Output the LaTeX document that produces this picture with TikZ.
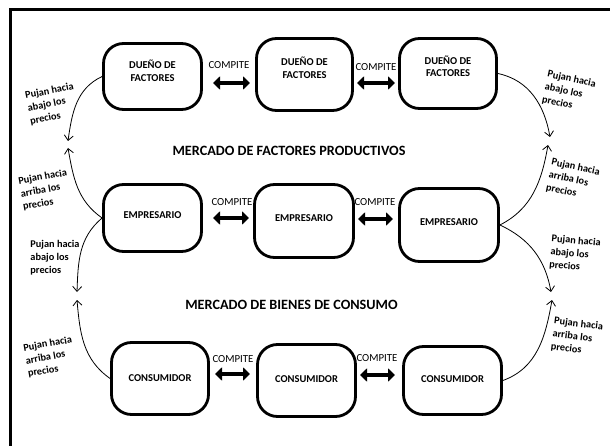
\documentclass[tikz,border=0pt]{standalone}
\usepackage{fontspec}
\setmainfont{Carlito}
\usetikzlibrary{arrows.meta,calc}
\begin{document}
\begin{tikzpicture}[x=1pt,y=1pt,
  box/.style={draw, line width=2.8pt, rounded corners=20pt, inner sep=0pt},
  boxtext/.style={font=\fontsize{10.5}{12.5}\selectfont\bfseries, align=center, inner sep=0pt},
  comp/.style={font=\fontsize{10.8}{12}\selectfont, inner sep=0pt},
  dbl/.style={line width=4.5pt, {Triangle[length=7pt,width=13pt]}-{Triangle[length=7pt,width=13pt]}},
  push/.style={line width=0.8pt, -{Straight Barb[length=5pt,width=9pt]}},
  lab/.style={font=\fontsize{10.3}{13}\selectfont\bfseries, align=left, inner sep=0pt},
  ttl/.style={font=\fontsize{14.2}{16}\selectfont\bfseries, inner sep=0pt}]
\useasboundingbox (0,0) rectangle (610,-446);
\fill[white] (0,0) rectangle (610,-446);
\draw[line width=3pt] (10,-10) rectangle (640,-480);

% boxes
\node[box, minimum width=98pt, minimum height=66pt] (B11) at (152.5,-76.5) {};
\node[box, minimum width=96pt, minimum height=72pt] (B12) at (304.5,-74.5) {};
\node[box, minimum width=97pt, minimum height=70pt] (B13) at (448,-73.5) {};
\node[box, minimum width=98pt, minimum height=67pt] (B21) at (152.5,-218) {};
\node[box, minimum width=99pt, minimum height=73pt] (B22) at (304,-221) {};
\node[box, minimum width=99pt, minimum height=73pt] (B23) at (449,-225) {};
\node[box, minimum width=97pt, minimum height=72pt] (B31) at (160,-378.5) {};
\node[box, minimum width=98pt, minimum height=72pt] (B32) at (306.5,-380.5) {};
\node[box, minimum width=98pt, minimum height=68pt] (B33) at (452.5,-380.5) {};

% box texts
\node[boxtext] (T11) at (152.5,-71) {DUEÑO DE\\FACTORES};
\node[boxtext] (T12) at (304.5,-68) {DUEÑO DE\\FACTORES};
\node[boxtext] (T13) at (448,-66.5) {DUEÑO DE\\FACTORES};
\node[boxtext] (T21) at (152.5,-215) {EMPRESARIO};
\node[boxtext] (T22) at (304,-218) {EMPRESARIO};
\node[boxtext] (T23) at (449,-222) {EMPRESARIO};
\node[boxtext] (T31) at (160,-378) {CONSUMIDOR};
\node[boxtext] (T32) at (306.5,-379) {CONSUMIDOR};
\node[boxtext] (T33) at (452.5,-379) {CONSUMIDOR};

% compite labels
\node[comp] (C1a) at (229,-65) {COMPITE};
\node[comp] (C1b) at (376,-67) {COMPITE};
\node[comp] (C2a) at (232,-202) {COMPITE};
\node[comp] (C2b) at (375,-202) {COMPITE};
\node[comp] (C3a) at (233,-359) {COMPITE};
\node[comp] (C3b) at (377,-358) {COMPITE};

% double arrows
\coordinate (a1l) at (213,-83); \coordinate (a1r) at (250,-83);
\coordinate (b1l) at (357,-83); \coordinate (b1r) at (395,-83);
\coordinate (a2l) at (213,-218); \coordinate (a2r) at (249,-218);
\coordinate (b2l) at (358,-219); \coordinate (b2r) at (393,-219);
\coordinate (a3l) at (215,-374); \coordinate (a3r) at (250,-374);
\coordinate (b3l) at (360,-375); \coordinate (b3r) at (395,-375);
\draw[dbl] (a1l) -- (a1r);
\draw[dbl] (b1l) -- (b1r);
\draw[dbl] (a2l) -- (a2r);
\draw[dbl] (b2l) -- (b2r);
\draw[dbl] (a3l) -- (a3r);
\draw[dbl] (b3l) -- (b3r);

% titles
\node[ttl] (M1) at (289,-151) {MERCADO DE FACTORES PRODUCTIVOS};
\node[ttl] (M2) at (291.5,-305) {MERCADO DE BIENES DE CONSUMO};

% curved arrow tips
\coordinate (tL1) at (68,-141);
\coordinate (tL2) at (68,-148);
\coordinate (tL3) at (77,-292);
\coordinate (tL4) at (77,-300);
\coordinate (tR1) at (550,-137);
\coordinate (tR2) at (548,-145);
\coordinate (tR3) at (551,-292);
\coordinate (tR4) at (552,-300);

\draw[push] (B11.west) to[out=205,in=82] (tL1);
\draw[push] (B21.west) to[out=145,in=-80] (tL2);
\draw[push] (B21.west) to[out=220,in=88] (tL3);
\draw[push] (B31.west) to[out=145,in=-85] (tL4);
\draw[push] (B13.east) to[out=-12,in=100] (tR1);
\draw[push] (B23.east) to[out=27,in=-100] (tR2);
\draw[push] (B23.east) to[out=-25,in=100] (tR3);
\draw[push] (B33.east) to[out=20,in=-100] (tR4);

% push labels
\node[lab, rotate=11] (L1) at (52,-104) {Pujan hacia\\abajo los\\precios};
\node[lab, rotate=10] (L2) at (45,-190) {Pujan hacia\\arriba los\\precios};
\node[lab] (L3) at (55,-258) {Pujan hacia\\abajo los\\precios};
\node[lab, rotate=10] (L4) at (50,-357) {Pujan hacia\\arriba los\\precios};
\node[lab, rotate=-12] (R1) at (569,-92) {Pujan hacia\\abajo los\\precios};
\node[lab, rotate=-12] (R2) at (573,-180) {Pujan hacia\\arriba los\\precios};
\node[lab, rotate=-5] (R3) at (575,-254) {Pujan hacia\\abajo los\\precios};
\node[lab, rotate=-7] (R4) at (577,-337) {Pujan hacia\\arriba los\\precios};
\end{tikzpicture}
\end{document}
